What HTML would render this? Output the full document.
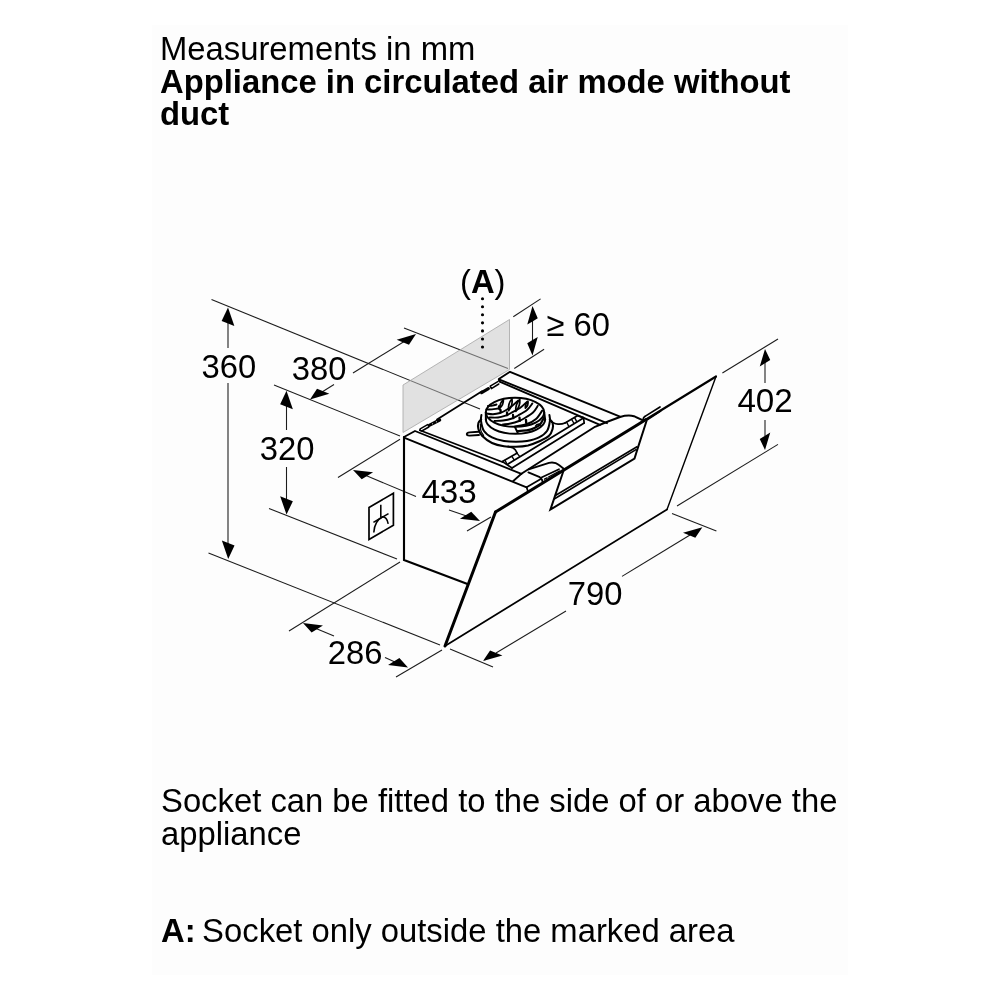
<!DOCTYPE html>
<html><head><meta charset="utf-8"><title>Measurements</title>
<style>
html,body{margin:0;padding:0;background:#fff;}
body{width:1000px;height:1000px;overflow:hidden;position:relative;font-family:"Liberation Sans",sans-serif;}
#panel{position:absolute;left:152px;top:25px;width:696px;height:950px;background:#fdfdfd;}
svg{position:absolute;left:0;top:0;will-change:transform;}
svg text{font-family:"Liberation Sans",sans-serif;fill:#000;}
</style></head><body>
<div id="panel"></div>
<svg width="1000" height="1000" viewBox="0 0 1000 1000">
<text x="160" y="60" font-size="32.8">Measurements in mm</text>
<text x="160" y="92.5" font-size="32.8" font-weight="bold">Appliance in circulated air mode without</text>
<text x="160" y="124.5" font-size="32.8" font-weight="bold">duct</text>
<text x="161" y="812.1" font-size="32.8">Socket can be fitted to the side of or above the</text>
<text x="161" y="844.8" font-size="32.8">appliance</text>
<text x="161" y="942.3" font-size="32.8"><tspan font-weight="bold">A:</tspan><tspan dx="-2.6"> Socket</tspan><tspan> only outside the marked area</tspan></text>
<line x1="211.5" y1="299.5" x2="480" y2="409" stroke="#1c1c1c" stroke-width="1.08" stroke-linecap="butt"/>
<line x1="208.5" y1="553" x2="440" y2="645" stroke="#1c1c1c" stroke-width="1.08" stroke-linecap="butt"/>
<line x1="450" y1="649" x2="493" y2="667" stroke="#1c1c1c" stroke-width="1.08" stroke-linecap="butt"/>
<line x1="228" y1="320" x2="228" y2="348" stroke="#1c1c1c" stroke-width="1.08" stroke-linecap="butt"/>
<line x1="228" y1="383" x2="228" y2="545" stroke="#1c1c1c" stroke-width="1.08" stroke-linecap="butt"/>
<polygon points="228.00,307.60 234.35,326.07 228.00,323.50 221.65,320.93" fill="#000"/>
<polygon points="228.20,558.90 234.55,545.57 228.20,543.00 221.85,540.43" fill="#000"/>
<line x1="404" y1="328" x2="508" y2="368.5" stroke="#1c1c1c" stroke-width="1.08" stroke-linecap="butt"/>
<line x1="274" y1="385" x2="400" y2="436" stroke="#1c1c1c" stroke-width="1.08" stroke-linecap="butt"/>
<line x1="353" y1="373" x2="405" y2="341" stroke="#1c1c1c" stroke-width="1.08" stroke-linecap="butt"/>
<line x1="334" y1="384.5" x2="322" y2="392" stroke="#1c1c1c" stroke-width="1.08" stroke-linecap="butt"/>
<polygon points="416.00,334.00 408.98,344.65 402.82,342.16 396.66,339.66" fill="#000"/>
<polygon points="310.00,399.50 329.34,393.84 323.18,391.34 317.02,388.85" fill="#000"/>
<line x1="269" y1="508.5" x2="397" y2="559" stroke="#1c1c1c" stroke-width="1.08" stroke-linecap="butt"/>
<line x1="286.5" y1="405" x2="286.5" y2="430" stroke="#1c1c1c" stroke-width="1.08" stroke-linecap="butt"/>
<line x1="286.5" y1="467" x2="286.5" y2="500" stroke="#1c1c1c" stroke-width="1.08" stroke-linecap="butt"/>
<polygon points="286.50,390.80 292.85,409.27 286.50,406.70 280.15,404.13" fill="#000"/>
<polygon points="286.50,514.60 292.85,501.27 286.50,498.70 280.15,496.13" fill="#000"/>
<line x1="338" y1="477.5" x2="400" y2="439.2" stroke="#1c1c1c" stroke-width="1.08" stroke-linecap="butt"/>
<line x1="467" y1="531" x2="491" y2="517" stroke="#1c1c1c" stroke-width="1.08" stroke-linecap="butt"/>
<line x1="366" y1="475.5" x2="416" y2="496.5" stroke="#1c1c1c" stroke-width="1.08" stroke-linecap="butt"/>
<line x1="449" y1="510" x2="468" y2="516.5" stroke="#1c1c1c" stroke-width="1.08" stroke-linecap="butt"/>
<polygon points="353.00,470.00 373.07,472.29 367.39,475.76 361.71,479.22" fill="#000"/>
<polygon points="480.00,521.00 471.29,511.78 465.61,515.24 459.93,518.71" fill="#000"/>
<line x1="289" y1="631" x2="400" y2="562" stroke="#1c1c1c" stroke-width="1.08" stroke-linecap="butt"/>
<line x1="396" y1="677" x2="442" y2="650" stroke="#1c1c1c" stroke-width="1.08" stroke-linecap="butt"/>
<line x1="316" y1="628.5" x2="334" y2="636" stroke="#1c1c1c" stroke-width="1.08" stroke-linecap="butt"/>
<line x1="385" y1="657.5" x2="396" y2="662.5" stroke="#1c1c1c" stroke-width="1.08" stroke-linecap="butt"/>
<polygon points="303.00,623.00 322.95,625.59 317.27,629.05 311.59,632.51" fill="#000"/>
<polygon points="408.00,667.50 399.41,657.99 393.73,661.45 388.05,664.91" fill="#000"/>
<line x1="672" y1="513.6" x2="716.4" y2="531" stroke="#1c1c1c" stroke-width="1.08" stroke-linecap="butt"/>
<line x1="622" y1="576.4" x2="690" y2="535" stroke="#1c1c1c" stroke-width="1.08" stroke-linecap="butt"/>
<line x1="566" y1="611" x2="496" y2="653" stroke="#1c1c1c" stroke-width="1.08" stroke-linecap="butt"/>
<polygon points="702.40,527.30 695.33,537.86 689.16,535.36 683.00,532.87" fill="#000"/>
<polygon points="483.00,661.00 502.40,655.43 496.24,652.94 490.07,650.44" fill="#000"/>
<line x1="722.4" y1="373" x2="778" y2="339" stroke="#1c1c1c" stroke-width="1.08" stroke-linecap="butt"/>
<line x1="677" y1="506" x2="778" y2="444.4" stroke="#1c1c1c" stroke-width="1.08" stroke-linecap="butt"/>
<line x1="765" y1="362" x2="765" y2="383" stroke="#1c1c1c" stroke-width="1.08" stroke-linecap="butt"/>
<line x1="765" y1="420" x2="765" y2="436" stroke="#1c1c1c" stroke-width="1.08" stroke-linecap="butt"/>
<polygon points="765.00,349.00 770.25,360.10 765.00,363.30 759.75,366.50" fill="#000"/>
<polygon points="765.00,450.00 770.25,432.50 765.00,435.70 759.75,438.90" fill="#000"/>
<line x1="513.3" y1="316.7" x2="540.6" y2="298.9" stroke="#1c1c1c" stroke-width="1.08" stroke-linecap="butt"/>
<line x1="514.3" y1="368.5" x2="544.1" y2="349.3" stroke="#1c1c1c" stroke-width="1.08" stroke-linecap="butt"/>
<line x1="532.5" y1="318" x2="532.5" y2="344" stroke="#1c1c1c" stroke-width="1.08" stroke-linecap="butt"/>
<polygon points="532.50,305.90 537.75,318.20 532.50,321.40 527.25,324.60" fill="#000"/>
<polygon points="532.50,355.60 537.75,336.90 532.50,340.10 527.25,343.30" fill="#000"/>
<polygon points="403,385 509.5,319.5 509.5,369.5 403,432.5" fill="rgba(197,197,197,0.5)" stroke="#a4a4a4" stroke-width="0.8"/>
<circle cx="482.5" cy="298.70" r="1.55" fill="#000"/>
<circle cx="482.5" cy="306.75" r="1.55" fill="#000"/>
<circle cx="482.5" cy="314.80" r="1.55" fill="#000"/>
<circle cx="482.5" cy="322.85" r="1.55" fill="#000"/>
<circle cx="482.5" cy="330.90" r="1.55" fill="#000"/>
<circle cx="482.5" cy="338.95" r="1.55" fill="#000"/>
<circle cx="482.5" cy="347.00" r="1.55" fill="#000"/>
<g fill="none" stroke="#000" stroke-linecap="round" stroke-linejoin="round">
<!-- box left face -->
<path d="M404,437 L404,560 L467.5,584" stroke-width="2.12" stroke-linejoin="miter"/>
<!-- lip -->
<path d="M404,437 L415,431 L521.4,473.8" stroke-width="1.8"/>
<path d="M404,437.6 L526.6,487.4" stroke-width="1.84"/>
<path d="M419.8,430.2 L503,462.2" stroke-width="1.7"/>
<!-- rear edge + clips -->
<path d="M437,419.4 L482,391.2" stroke-width="1.8"/>
<path d="M429.2,425.4 L439.6,420" stroke-width="3.3"/>
<path d="M481.6,392.6 L488.4,388.6" stroke-width="3.1"/>
<path d="M420.2,428.8 L427.6,424.6 M421.8,431 L428.8,427 M420.2,428.8 Q419.4,430.4 421.8,431" stroke-width="1.5"/>
<path d="M490.2,386.2 L497.8,381.6 M491.4,388.6 L498.8,384 M490.2,386.2 L491.4,388.6" stroke-width="1.5"/>
<circle cx="432.6" cy="423.7" r="0.55" fill="#fff" stroke="none"/><circle cx="436.4" cy="421.7" r="0.55" fill="#fff" stroke="none"/>
<!-- right bar (D direction) -->
<path d="M499.2,381.2 L498.8,379 L510,371.8 L620,416.6" stroke-width="1.95"/>
<path d="M499.6,379.6 L607,423.2" stroke-width="1.8"/>
<path d="M499.6,381.6 L600,424.8" stroke-width="1.8"/>
<!-- front edge / hump outline -->
<path d="M521.4,473.8 L595,426.8 Q603,423.5 608,421.5 L620,417 Q628,414.6 634,416.2 L643,420.4" stroke-width="1.95"/>
<!-- front rail -->
<path d="M502.4,461.6 L516,453.8 L517,453" stroke-width="1.7"/>
<path d="M565,423 L577.4,415.8 L583.5,417.6 L584.2,423" stroke-width="1.7"/>
<path d="M507.2,464.4 L583,418.2" stroke-width="1.8"/>
<path d="M512,468 L584.2,423" stroke-width="1.8"/>
<path d="M502.4,461.6 L512,468" stroke-width="1.7"/>
<!-- rail details -->
<path d="M505,460.4 L506.6,463.4 M512,456.6 L514,459.6 M517.4,453.6 L519.6,456.4" stroke-width="1.4"/>
<path d="M566.6,422.2 L568.6,426 M571.6,419.4 L573.8,423 M574.6,417.6 L576.6,421.4" stroke-width="1.4"/>
<!-- fillets collar->rail -->
<path d="M508,446.4 L513.2,448 Q515.8,449.6 516.2,451.4 L517,453.2" stroke-width="1.7"/>
<path d="M550.5,420.6 Q553,424 558,424.2 Q562,424.4 565,423" stroke-width="1.7"/>
<!-- block -->
<path d="M521.4,473.8 L513,481.2" stroke-width="1.8"/>
<path d="M528.4,472.4 L539.8,477.2 Q542.4,479 542.6,482" stroke-width="1.84"/>
<path d="M526.6,487.3 L540.8,479" stroke-width="1.70"/>
<path d="M526.6,487.3 L527.8,491" stroke-width="1.70"/>
<path d="M541.4,477.6 L559,469.2" stroke-width="1.70"/>
<path d="M544.5,479.2 L547,477.8 M548.5,477 L559.5,471" stroke-width="1.42"/>
<!-- hump wedge -->
<path d="M528.6,469.4 L549,462.8 Q555,461.6 559,465 L564,469" stroke-width="1.84"/>
<!-- recess behind glass -->
<path d="M563.4,471 L550.4,509.6 L634.5,458.5 L638,447.4 L647,419.5" stroke-width="1.98" stroke-linejoin="miter"/>
<path d="M555.8,495.2 L637,446.8" stroke-width="1.6"/>
<path d="M554.6,498.8 L636,449.6" stroke-width="1.6"/>
<!-- pin -->
<path d="M645,416.4 L660,407 M648,419.4 L660.6,411" stroke-width="1.70"/>
<path d="M645,416.4 Q642.5,418 643.6,420.4" stroke-width="1.70"/>
<!-- collar -->
<ellipse cx="515" cy="412.3" rx="29.2" ry="14.5" stroke-width="2.0"/>
<path d="M485.8,412.3 L485.9,419.3 M544.2,412.3 L545.1,419.3" stroke-width="2.0"/>
<path d="M485.8,419.3 A29.7,14.5 0 0 0 545.2,419.3" stroke-width="2.0"/>
<path d="M514.8,426.6 L517.6,432.6" stroke-width="2.0"/>
<path d="M481.4,415.0 C481.3,416.0 480.6,418.3 481.0,421.0 C481.4,423.7 482.2,428.3 484.0,431.0 C485.8,433.7 488.7,435.7 492.0,437.4 C495.3,439.1 500.0,440.3 504.0,441.0 C508.0,441.7 512.2,441.8 516.0,441.8 C519.8,441.8 523.2,441.7 527.0,441.0 C530.8,440.3 535.7,439.1 539.0,437.4 C542.3,435.7 545.2,433.7 547.0,431.0 C548.8,428.3 549.5,423.7 549.9,421.0 C550.3,418.3 549.5,416.0 549.4,415.0" stroke-width="2.0"/>
<path d="M481.2,419.4 C480.7,420.0 478.9,421.4 478.4,423.0 C477.9,424.6 477.8,426.9 478.4,429.0 C479.0,431.1 479.7,433.5 482.0,435.8 C484.3,438.1 488.3,441.3 492.0,443.0 C495.7,444.7 500.0,445.6 504.0,446.2 C508.0,446.8 512.0,446.8 516.0,446.7 C520.0,446.6 524.0,446.3 528.0,445.4 C532.0,444.4 536.5,442.6 540.0,441.0 C543.5,439.4 546.9,437.8 549.0,435.8 C551.1,433.8 552.0,431.1 552.6,429.0 C553.2,426.9 553.1,424.6 552.6,423.0 C552.1,421.4 550.3,420.0 549.8,419.4" stroke-width="2.1"/>
<path d="M480.4,424.0 C480.5,425.1 480.3,428.5 480.8,430.4 C481.3,432.3 483.1,434.7 483.6,435.6" stroke-width="1.2"/>
<path d="M478.4,431.8 L469.6,432.4 Q466.6,432.8 466.8,434.2 Q467,435.8 469.8,435.6 L479,435" stroke-width="1.9"/>
<path d="M488.0,406.0 C488.8,405.9 491.1,405.9 492.5,405.6 C493.9,405.4 495.8,404.7 496.5,404.5" stroke-width="1.9"/>
<path d="M486.5,409.5 C487.4,409.5 490.1,409.6 492.0,409.4 C493.9,409.2 497.0,408.6 498.0,408.5" stroke-width="1.9"/>
<path d="M486.5,413.5 C487.6,413.6 490.8,414.3 493.0,414.2 C495.2,414.1 498.0,413.6 500.0,413.0 C502.0,412.4 503.0,412.0 505.0,410.8 C507.0,409.6 509.8,407.7 512.0,406.0 C514.2,404.3 517.0,401.5 518.0,400.6" stroke-width="1.9"/>
<path d="M489.5,417.5 C490.9,417.5 495.2,417.8 498.0,417.5 C500.8,417.2 503.8,416.2 506.0,415.5 C508.2,414.8 508.7,414.2 511.0,413.0 C513.3,411.8 517.3,409.9 520.0,408.0 C522.7,406.1 526.0,402.7 527.2,401.6" stroke-width="1.9"/>
<path d="M494.5,421.0 C495.9,420.9 500.1,420.9 503.0,420.5 C505.9,420.1 509.5,419.3 512.0,418.5 C514.5,417.7 515.5,416.9 518.0,415.5 C520.5,414.1 524.6,412.0 527.0,410.0 C529.4,408.0 531.5,404.5 532.4,403.4" stroke-width="1.9"/>
<path d="M503.0,424.5 C504.2,424.3 507.8,424.1 510.5,423.5 C513.2,422.9 516.8,421.8 519.0,421.0 C521.2,420.2 521.7,419.9 524.0,418.5 C526.3,417.1 530.7,414.6 533.0,412.5 C535.3,410.4 537.0,406.9 537.8,405.8" stroke-width="1.9"/>
<path d="M515.5,426.4 C517.4,426.0 523.6,425.2 527.0,424.0 C530.4,422.8 533.5,421.2 536.0,419.0 C538.5,416.8 541.2,412.0 542.2,410.6" stroke-width="1.9"/>
<path d="M517.6,431.2 C519.3,431.0 525.2,430.7 528.0,430.2 C530.8,429.7 532.4,429.0 534.4,428.0 C536.4,427.0 538.4,426.1 540.0,424.4 C541.6,422.7 543.2,419.1 543.8,418.0" stroke-width="2.1999999999999997"/>
<path d="M503.4,399.6 Q499.6,403.1 499.8,408.2 Q503.6,404.7 503.4,399.6 Z" stroke-width="1.7"/>
<path d="M512,398.8 Q507.6,403.9 508.6,410.6 Q513.0,405.5 512,398.8 Z" stroke-width="1.7"/>
<path d="M519.8,399.2 Q515.1,404.4 515.8,411.4 Q520.5,406.2 519.8,399.2 Z" stroke-width="1.7"/>
<path d="M528,401.4 Q524.8,404.1 525.4,408.2 Q528.6,405.5 528,401.4 Z" stroke-width="1.7"/>
<path d="M499,406.5 L499.2,409 M500.5,410 L500.7,412.2 M507,412.5 L507.2,415 M513,415 L513.3,418 M519.5,417.6 L519.8,420.8 M526,420 L526.2,423" stroke-width="2.3"/>
<path d="M535.6,426 Q536.4,424 539,424 Q540.6,424.4 540,425.6" stroke-width="1.5999999999999999"/>
</g>
<!-- glass -->
<g fill="none" stroke="#000" stroke-linecap="round">
<path d="M495.5,512 L646,419.5" stroke-width="3.0"/>
<path d="M646,419.5 L716,376.5" stroke-width="2.2"/>
<path d="M495.5,512 L445,646" stroke-width="3.0"/>
<path d="M445,646 L667,509.5" stroke-width="1.75"/>
<path d="M667,509.5 L716,376.5" stroke-width="1.4"/>
</g>

<text transform="translate(201.6,377.8) scale(1.0,1.03)" font-size="32.8" font-weight="normal" text-anchor="start" >360</text>
<text transform="translate(291.7,379.8) scale(1.0,1.03)" font-size="32.8" font-weight="normal" text-anchor="start" >380</text>
<text transform="translate(259.8,460) scale(1.0,1.03)" font-size="32.8" font-weight="normal" text-anchor="start" >320</text>
<text transform="translate(421.4,503) scale(1.012,1.03)" font-size="32.8" font-weight="normal" text-anchor="start" >433</text>
<text transform="translate(327.8,664.4) scale(1.0,1.03)" font-size="32.8" font-weight="normal" text-anchor="start" >286</text>
<text transform="translate(567.8,605) scale(1.0,1.03)" font-size="32.8" font-weight="normal" text-anchor="start" >790</text>
<text transform="translate(737.4,412.4) scale(1.012,1.03)" font-size="32.8" font-weight="normal" text-anchor="start" >402</text>
<text transform="translate(546.5,335.5) scale(1.0,1.03)" font-size="32.8" font-weight="normal" text-anchor="start" >≥ 60</text>
<text x="460" y="293" font-size="32.8">(<tspan font-weight="bold">A</tspan>)</text>
<path d="M369,507.4 L393.4,493.3 L393.4,525.2 L369,539.5 Z" stroke="#000" stroke-width="1.7" fill="none" stroke-linejoin="miter" stroke-linecap="round"/>
<path d="M380.8,504.8 L380.8,517.2" stroke="#000" stroke-width="1.55" fill="none" stroke-linejoin="round" stroke-linecap="butt"/>
<path d="M373.4,522.4 L388.5,513.6" stroke="#000" stroke-width="1.55" fill="none" stroke-linejoin="round" stroke-linecap="butt"/>
<path d="M373.8,532.5 Q374.5,521 382.5,516.8 Q387,517 388.2,523.8" stroke="#000" stroke-width="1.55" fill="none" stroke-linejoin="round" stroke-linecap="butt"/>
</svg>
</body></html>
